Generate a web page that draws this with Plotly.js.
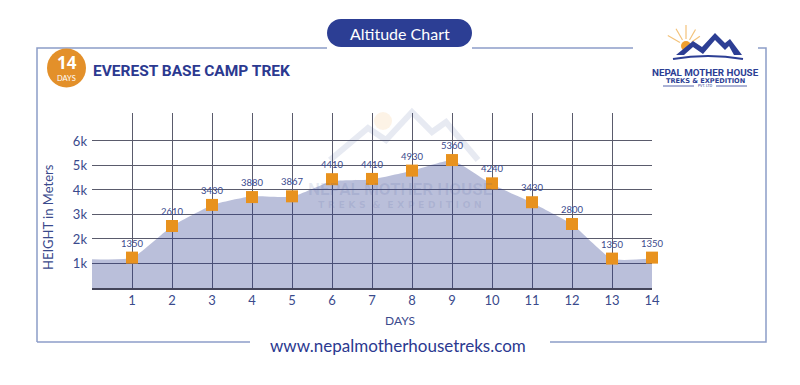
<!DOCTYPE html>
<html><head><meta charset="utf-8">
<script src="https://cdn.plot.ly/plotly-3.0.1.min.js"></script>
<style>html,body{margin:0;padding:0;background:#fff;}#chart{width:800px;height:385px;}</style>
</head><body><div id="chart"></div>
<script>
// ---- data ----
const days = [1,2,3,4,5,6,7,8,9,10,11,12,13,14];
const altitudeLabels = [1350,2610,3430,3880,3867,4410,4410,4930,5360,4240,3430,2800,1350,1350];
const markerHeights = [1240,2530,3390,3710,3740,4440,4450,4790,5220,4270,3500,2610,1200,1240];
const profileDays = [0,1,2,3,4,5,6,7,8,9,10,11,12,13,14];
const profileHeights = [1170,1230,2520,3380,3740,3730,4360,4430,4780,5200,4230,3480,2600,1190,1200];
const yTickVals = [1000,2000,3000,4000,5000,6000];
const yTickText = ['1k','2k','3k','4k','5k','6k'];

// ---- geometry helpers (pixel -> paper) ----
const L=92, R=652, T=113, B=288;
const px = x => (x-L)/(R-L);
const py = y => (B-y)/(B-T);
const pathOf = (pts, close) => pts.map((p,i)=>(i?'L ':'M ')+px(p[0])+' '+py(p[1])).join(' ') + (close?' Z':'');

const navy = '#2c3e94';
const axisText = '#3a4a8c';
const frame = '#8c9dc8';

function pillPath(x0,y0,x1,y1){
  const r=(y1-y0)/2, k=0.5523*r;
  const P=(x,y)=>px(x)+' '+py(y);
  return 'M '+P(x0+r,y0)+' L '+P(x1-r,y0)+
    ' C '+P(x1-r+k,y0)+' '+P(x1,y0+r-k)+' '+P(x1,y0+r)+
    ' C '+P(x1,y0+r+k)+' '+P(x1-r+k,y1)+' '+P(x1-r,y1)+
    ' L '+P(x0+r,y1)+
    ' C '+P(x0+r-k,y1)+' '+P(x0,y0+r+k)+' '+P(x0,y0+r)+
    ' C '+P(x0,y0+r-k)+' '+P(x0+r-k,y0)+' '+P(x0+r,y0)+' Z';
}

const traces = [
  {x: profileDays, y: profileHeights, type:'scatter', mode:'lines',
   line:{width:0, shape:'spline', smoothing:0.5}, fill:'tozeroy',
   fillcolor:'rgba(40,55,140,0.32)', hoverinfo:'skip'},
  {x: days, y: markerHeights, type:'scatter', mode:'markers+text', cliponaxis:false,
   text: altitudeLabels.map(String), textposition:'top center',
   textfont:{family:'Lato, sans-serif', size:9.5, color:axisText},
   marker:{symbol:'square', size:12, color:'#e8921e'}}
];

const shapes = [
  // frame
  {type:'path', xref:'paper', yref:'paper', path: pathOf([[37,342],[37,48],[327,48]]), line:{color:frame,width:1.5}},
  {type:'path', xref:'paper', yref:'paper', path: pathOf([[472,48],[633,48]]), line:{color:frame,width:1.5}},
  {type:'path', xref:'paper', yref:'paper', path: pathOf([[758,48],[766,48],[766,342],[550,342]]), line:{color:frame,width:1.5}},
  {type:'path', xref:'paper', yref:'paper', path: pathOf([[37,342],[250,342]]), line:{color:frame,width:1.5}},
  // pill
  {type:'path', xref:'paper', yref:'paper', path: pillPath(327,19,472,47), fillcolor:navy, line:{width:0}},
  // badge
  {type:'circle', xref:'paper', yref:'paper', x0:px(47), x1:px(86), y0:py(48.5), y1:py(87.5), fillcolor:'#e3902a', line:{width:0}},
  // logo sun rays
  ...[[-60,14],[-30,13],[0,14],[30,12],[55,10]].map(([a,len])=>{
    const cx=686, cy=46, r0=7, rad=a*Math.PI/180;
    return {type:'path', xref:'paper', yref:'paper',
      path: pathOf([[cx+Math.sin(rad)*r0, cy-Math.cos(rad)*r0],[cx+Math.sin(rad)*(r0+len), cy-Math.cos(rad)*(r0+len)]]),
      line:{color:'#f3c27a', width:1.2}};
  }),
  // logo sun
  {type:'circle', xref:'paper', yref:'paper', x0:px(681), x1:px(691), y0:py(41), y1:py(51), fillcolor:'#f0a030', line:{width:0}},
  // logo mountains
  {type:'path', xref:'paper', yref:'paper',
   path: pathOf([[676,55],[693,41],[702,47],[715,33],[725,43],[730,39],[742,55],[734,55],[729,46],[725,50],[715,40],[703,54],[693,47],[684,55]], true),
   fillcolor:navy, line:{width:0}},
  // logo arc
  {type:'path', xref:'paper', yref:'paper',
   path: 'M '+px(673)+' '+py(59)+' Q '+px(708)+' '+py(53)+' '+px(743)+' '+py(59),
   line:{color:navy, width:2}},
  // logo underlines
  {type:'path', xref:'paper', yref:'paper', path: pathOf([[663,86],[694,86]]), line:{color:navy,width:0.8}},
  {type:'path', xref:'paper', yref:'paper', path: pathOf([[716,86],[747,86]]), line:{color:navy,width:0.8}},
  // watermark mountains
  {type:'path', xref:'paper', yref:'paper',
   path: pathOf([[330,160],[368,128],[386,140],[412,112],[432,132],[446,122],[478,160]]),
   line:{color:'rgba(60,80,150,0.12)', width:6}},
  {type:'circle', xref:'paper', yref:'paper', x0:px(374), x1:px(392), y0:py(112), y1:py(130), fillcolor:'rgba(240,160,48,0.12)', line:{width:0}}
];

const ann = (x,y,text,opts={}) => Object.assign({xref:'paper', yref:'paper', x:px(x), y:py(y), text, showarrow:false,
  xanchor:'center', yanchor:'middle', font:{family:'Lato, sans-serif', size:12, color:axisText}}, opts);

const annotations = [
  ann(399.5,33,'Altitude Chart',{font:{family:'Lato, sans-serif', size:16, color:'#ffffff'}}),
  ann(66.5,62,'<b>14</b>',{font:{family:'Open Sans, sans-serif', size:17, color:'#ffffff'}}),
  ann(66.5,78.5,'DAYS',{font:{family:'Lato, sans-serif', size:7.5, color:'#ffffff'}}),
  ann(91,71,'<b>EVEREST BASE CAMP TREK</b>',{xanchor:'left', font:{family:'Roboto, sans-serif', size:15.5, color:'#2b3990'}}),
  ann(705,73,'<b>NEPAL MOTHER HOUSE</b>',{font:{family:'Roboto, sans-serif', size:9.8, color:navy}}),
  ann(705,80.5,'<b>TREKS &amp; EXPEDITION</b>',{font:{family:'DejaVu Sans, sans-serif', size:6.6, color:navy}}),
  ann(705,86,'PVT. LTD',{font:{family:'Lato, sans-serif', size:3.5, color:navy}}),
  ann(400,189,'<b>NEPAL MOTHER HOUSE</b>',{font:{family:'Roboto, sans-serif', size:17, color:'rgba(60,80,150,0.12)'}}),
  ann(400,204,'<b>T R E K S  &amp;  E X P E D I T I O N</b>',{font:{family:'DejaVu Sans, sans-serif', size:9.5, color:'rgba(60,80,150,0.12)'}}),
  ann(48,217,'HEIGHT in Meters',{textangle:-90, font:{family:'Lato, sans-serif', size:13, color:axisText}}),
  ann(400,320,'DAYS',{font:{family:'Lato, sans-serif', size:12, color:axisText}}),
  ann(398,345,'www.nepalmotherhousetreks.com',{font:{family:'Lato, sans-serif', size:17, color:'#2b3990'}})
];

const layout = {
  width:800, height:385,
  margin:{l:L, r:800-R, t:T, b:385-B, pad:0},
  paper_bgcolor:'#ffffff', plot_bgcolor:'#ffffff',
  showlegend:false,
  xaxis:{range:[0,14], tickvals:days, ticktext:days.map(String), showgrid:true, gridcolor:'#5a5b6c', gridwidth:1,
         zeroline:false, showline:true, linecolor:'#44455a', linewidth:1.5, ticks:'', fixedrange:true,
         tickfont:{family:'Lato, sans-serif', size:13, color:axisText}},
  yaxis:{range:[0,7140], tickvals:yTickVals, ticktext:yTickText, showgrid:true, gridcolor:'#5a5b6c', gridwidth:1,
         zeroline:false, showline:false, ticks:'', ticklabelstandoff:4, fixedrange:true,
         tickfont:{family:'Lato, sans-serif', size:13, color:axisText}},
  shapes, annotations
};

Plotly.newPlot('chart', traces, layout, {displayModeBar:false, staticPlot:true});
</script></body></html>
